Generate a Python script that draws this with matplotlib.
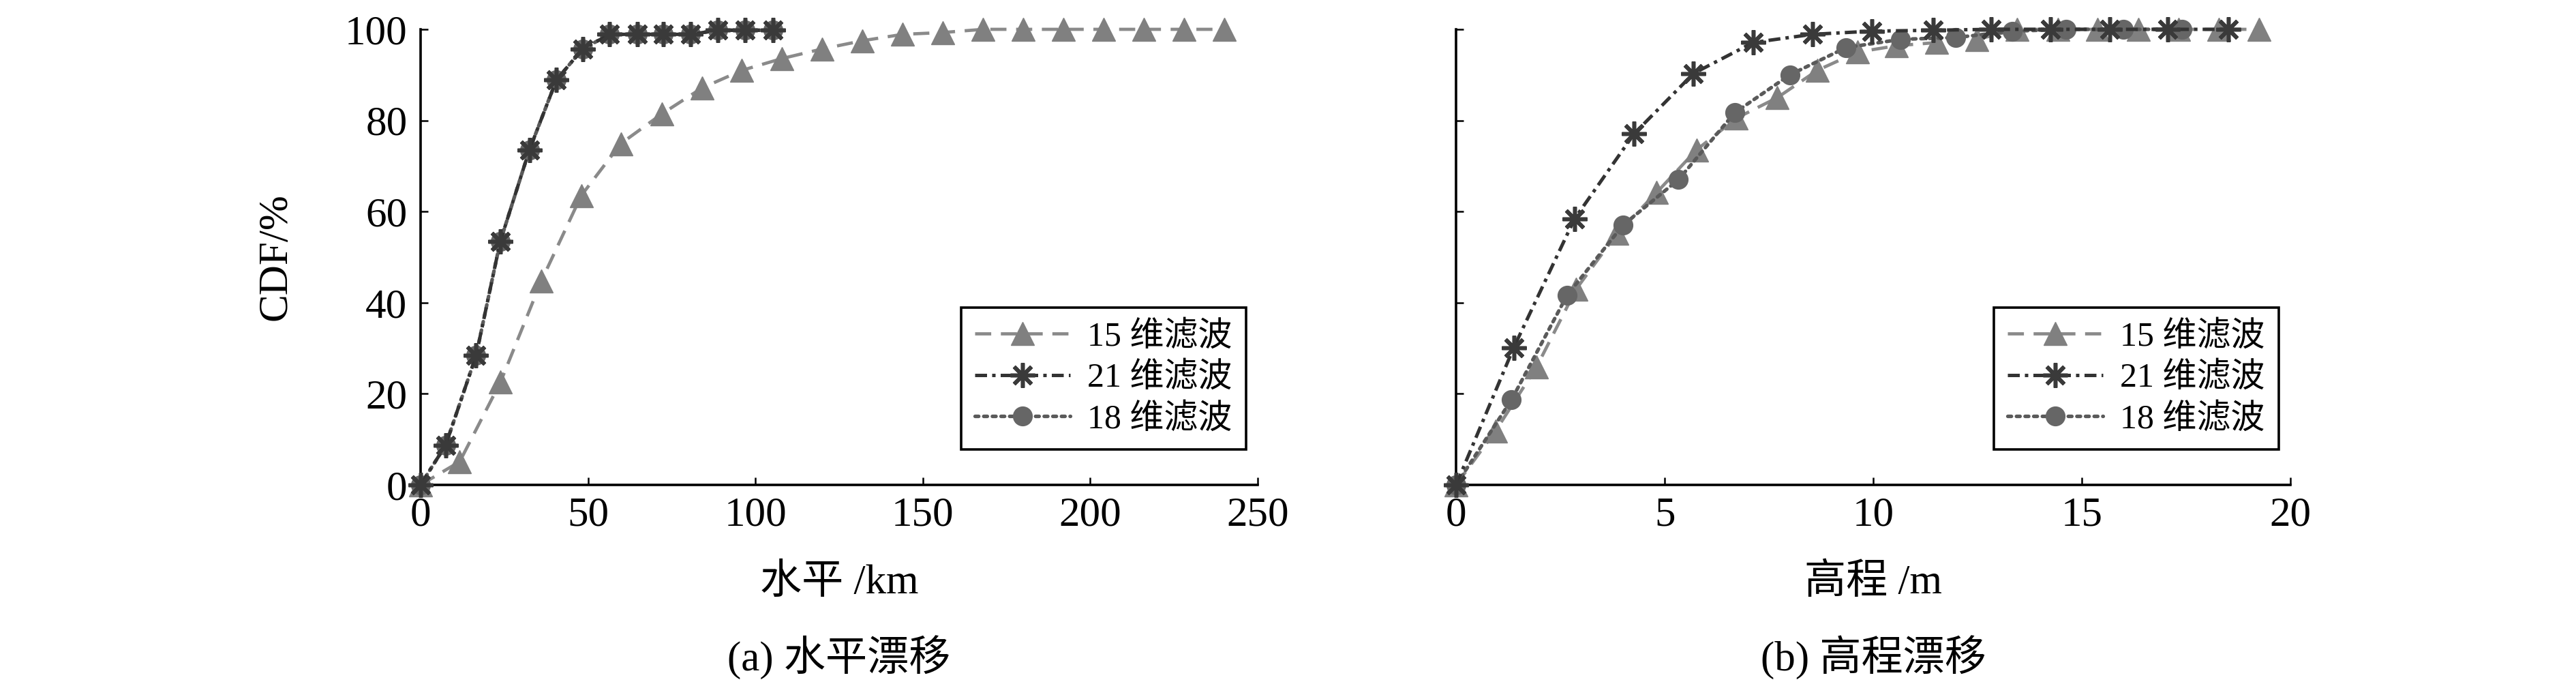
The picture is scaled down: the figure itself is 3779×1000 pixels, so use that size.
import matplotlib
matplotlib.use("Agg")
import matplotlib.pyplot as plt

# 글꼴: 숫자는 Times 계열, 한자는 CJK 폰트로 폴백
plt.rcParams["font.family"] = ["Liberation Serif", "Noto Sans CJK SC"]
plt.rcParams["axes.unicode_minus"] = False

# ---- (a) 水平漂移 데이터 ----
x15_h = [0, 11.7, 23.9, 36.1, 48, 59.8, 72, 84, 96, 108, 120, 132, 144, 156,
         168, 180, 192, 204, 216, 228, 240]
y15_h = [0, 5.1, 22.6, 44.8, 63.5, 74.9, 81.4, 87.1, 91.0, 93.6, 95.7, 97.5,
         98.9, 99.3, 100, 100, 100, 100, 100, 100, 100]
x21_h = [0, 7.5, 16.6, 23.8, 32.5, 40.6, 48.4, 56.5, 64.8, 72.5, 80.7, 88.8,
         97, 105.2]
y21_h = [0, 8.7, 28.4, 53.4, 73.5, 88.9, 95.7, 98.9, 98.9, 98.9, 98.9, 99.8,
         99.8, 99.8]
x18_h = [0, 7.5, 16.6, 23.8, 32.5, 40.6, 48.4, 56.5, 64.8, 72.5, 80.7, 88.8,
         97, 105.2]
y18_h = [0, 8.7, 28.4, 53.4, 73.5, 88.9, 95.7, 98.9, 98.9, 98.9, 98.9, 99.8,
         99.8, 99.8]

# ---- (b) 高程漂移 데이터 ----
x15_v = [0, 0.95, 1.93, 2.88, 3.86, 4.81, 5.76, 6.72, 7.7, 8.66, 9.62, 10.56,
         11.52, 12.49, 13.45, 14.42, 15.38, 16.35, 17.32, 18.28, 19.25]
y15_v = [0, 11.9, 25.9, 43.0, 55.2, 64.2, 73.5, 80.5, 85.0, 91.0, 95.0, 96.4,
         97.1, 97.8, 100, 100, 100, 100, 100, 100, 100]
x21_v = [0, 1.38, 2.84, 4.27, 5.69, 7.12, 8.54, 9.97, 11.44, 12.82, 14.25,
         15.67, 17.06, 18.52]
y21_v = [0, 30.1, 58.4, 77.1, 90.3, 97.1, 98.9, 99.6, 99.8, 100, 100, 100,
         100, 100]
x18_v = [0, 1.33, 2.66, 4.0, 5.33, 6.68, 8.0, 9.35, 10.66, 11.98, 13.34,
         14.62, 16.0, 17.4]
y18_v = [0, 18.7, 41.6, 57.0, 67.0, 81.7, 90.0, 96.0, 97.8, 98.2, 99.6, 100,
         100, 100]

labels = ["15 维滤波", "21 维滤波", "18 维滤波"]
xticks_h = [0, 50, 100, 150, 200, 250]
xticks_v = [0, 5, 10, 15, 20]
yticks = [0, 20, 40, 60, 80, 100]

FS = 44

fig = plt.figure(figsize=(37.8, 10), dpi=100)
ax1 = fig.add_axes([0.1632, 0.289, 0.3249, 0.668])
ax2 = fig.add_axes([0.5651, 0.289, 0.3238, 0.668])


def draw(ax, xs, ys):
    (x15, x21, x18), (y15, y21, y18) = xs, ys
    ax.plot(x15, y15, color="#8a8a8a", lw=3.4, ls=(0, (5, 3)),
            marker="^", ms=24, mfc="#808080", mec="#808080",
            label=labels[0], clip_on=False, zorder=3)
    ax.plot(x21, y21, color="#333333", lw=3.6, ls=(0, (3.5, 1.5, 1, 1.5)),
            marker=(8, 2, 0), ms=26, mew=4, mec="#3a3a3a",
            label=labels[1], clip_on=False, zorder=4)
    ax.plot(x18, y18, color="#5a5a5a", lw=3.8, ls=(0, (1, 1.4)),
            dash_capstyle="round",
            marker="o", ms=20, mfc="#666666", mec="#666666",
            label=labels[2], clip_on=False, zorder=3)


draw(ax1, (x15_h, x21_h, x18_h), (y15_h, y21_h, y18_h))
draw(ax2, (x15_v, x21_v, x18_v), (y15_v, y21_v, y18_v))

for ax, xt, xl, cap in ((ax1, xticks_h, "水平 /km", "(a) 水平漂移"),
                        (ax2, xticks_v, "高程 /m", "(b) 高程漂移")):
    ax.set_xlim(xt[0], xt[-1])
    ax.set_ylim(0, 100)
    ax.set_xticks(xt)
    ax.set_yticks(yticks)
    for s in ("top", "right"):
        ax.spines[s].set_visible(False)
    for s in ("left", "bottom"):
        ax.spines[s].set_linewidth(2.6)
    ax.tick_params(direction="in", length=8, width=1.8, labelsize=FS)
    ax.tick_params(axis="x", pad=12)
    ax.tick_params(axis="y", pad=14)
    ax.set_xlabel(xl, fontsize=FS, va="center")
    ax.xaxis.set_label_coords(0.5, -0.215)
    ax.text(0.5, -0.378, cap, fontsize=FS, ha="center", va="center",
            transform=ax.transAxes)
    leg = ax.legend(loc="lower right", bbox_to_anchor=(0.986, 0.078),
                    borderaxespad=0, fontsize=36, numpoints=1,
                    handlelength=2.8, labelspacing=0.28, handletextpad=0.5,
                    borderpad=0.4, fancybox=False, framealpha=1)
    leg.get_frame().set_edgecolor("black")
    leg.get_frame().set_linewidth(2.6)

ax1.set_ylabel("CDF/%", fontsize=FS, va="center")
ax1.yaxis.set_label_coords(-0.173, 0.5)
ax2.set_yticklabels([])

fig.savefig("out.png", dpi=100)
